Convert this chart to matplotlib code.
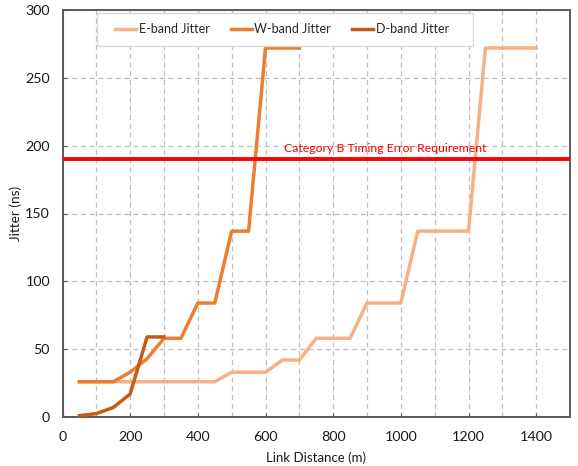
import matplotlib
matplotlib.use("Agg")
import matplotlib.pyplot as plt
from matplotlib.patches import Rectangle

# link distance (m) for each series
e_dist = [50, 100, 150, 200, 250, 300, 350, 400, 450, 500, 550, 600, 650, 700,
          750, 800, 850, 900, 950, 1000, 1050, 1100, 1150, 1200, 1250, 1300, 1350, 1400]
e_jitter = [26, 26, 26, 26, 26, 26, 26, 26, 26, 33, 33, 33, 42, 42,
            58, 58, 58, 84, 84, 84, 137, 137, 137, 137, 272, 272, 272, 272]

w_dist = [50, 100, 150, 200, 250, 300, 350, 400, 450, 500, 550, 600, 650, 700]
w_jitter = [26, 26, 26, 33, 43, 58, 58, 84, 84, 137, 137, 272, 272, 272]

d_dist = [50, 100, 150, 200, 250, 300]
d_jitter = [1, 2.5, 7, 17, 59, 59]

requirement = 190
req_label = "Category B Timing Error Requirement"

plt.rcParams['font.family'] = ['Lato', 'DejaVu Sans']

fig = plt.figure(figsize=(5.78, 4.66), dpi=100)
ax = fig.add_axes([62.5 / 578, 1 - 417 / 466, 507.5 / 578, 407 / 466])

ax.plot(e_dist, e_jitter, color='#F4B183', lw=2.5, label='E-band Jitter', zorder=3)
ax.plot(w_dist, w_jitter, color='#ED7D31', lw=2.5, label='W-band Jitter', zorder=4)
ax.plot(d_dist, d_jitter, color='#C55A11', lw=2.5, label='D-band Jitter', zorder=5)

ax.axhline(requirement, color='#FF0000', lw=2.8, zorder=6)
ax.text(955, 198, req_label, color='#FF0000', fontsize=8.8, ha='center', va='center')

ax.set_xlim(0, 1500)
ax.set_ylim(0, 300)
ax.set_xticks(range(0, 1401, 200))
ax.set_xticks(range(100, 1501, 100), minor=True)
ax.set_yticks(range(0, 301, 50))

ax.grid(True, which='both', axis='x', color='#BFBFBF', ls=(0, (4, 3)), lw=0.9)
ax.grid(True, which='major', axis='y', color='#BFBFBF', ls=(0, (4, 3)), lw=0.9)
ax.set_axisbelow(True)

for s in ax.spines.values():
    s.set_color('#595959')
    s.set_linewidth(1.4)

ax.tick_params(axis='x', which='major', direction='in', length=3, color='#595959',
               labelsize=10.3, pad=10, labelcolor='#1a1a1a')
ax.tick_params(axis='x', which='minor', length=0)
ax.tick_params(axis='y', direction='in', length=3, color='#595959',
               labelsize=10.3, pad=9, labelcolor='#1a1a1a')

ax.set_xlabel('Link Distance (m)', fontsize=9.5, color='#1a1a1a', labelpad=6)
ax.set_ylabel('Jitter (ns)', fontsize=9.8, color='#1a1a1a')
ax.yaxis.set_label_coords(-0.079, 0.5)

# legend box drawn separately so the entries can sit inside it like the original
box = Rectangle((0.068, 0.912), 0.741, 0.081, transform=ax.transAxes,
                facecolor='white', edgecolor='#D9D9D9', lw=1.0, zorder=7)
ax.add_patch(box)

leg = ax.legend(loc='center', bbox_to_anchor=(0.1034, 0.912, 0.658, 0.081),
                mode='expand', ncol=3, frameon=False,
                fontsize=9, handlelength=1.7, handletextpad=0.2,
                borderaxespad=0, borderpad=0)
leg.set_zorder(8)
for t in leg.get_texts():
    t.set_color('#262626')

fig.savefig('out.png', dpi=100)
